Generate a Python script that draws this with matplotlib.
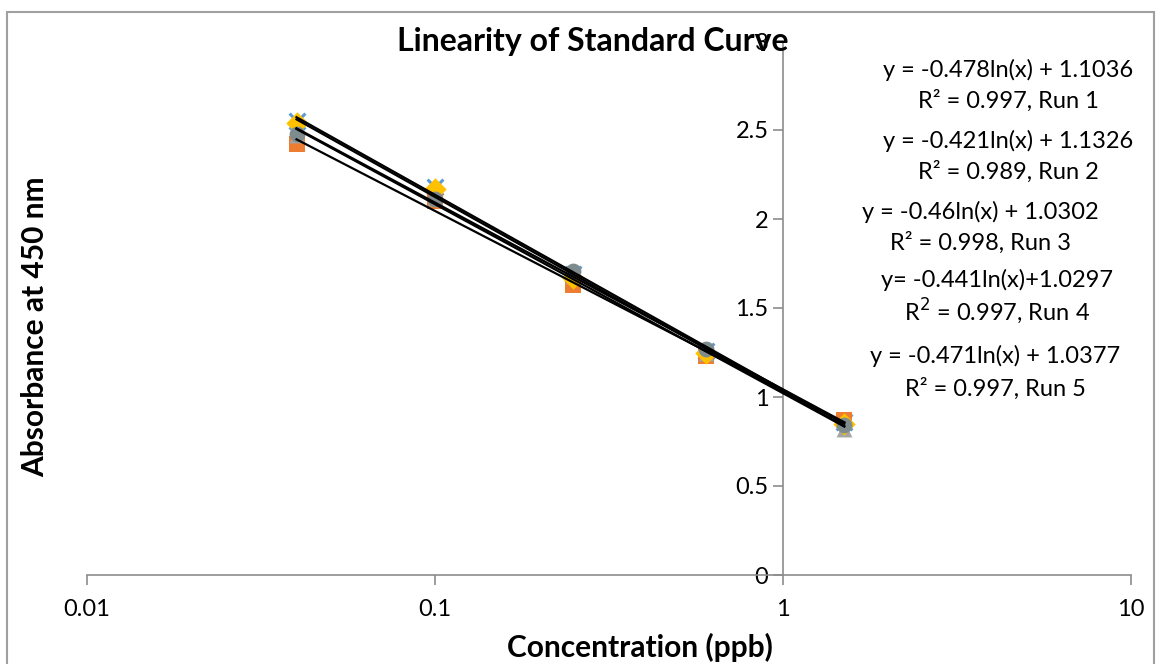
"""Linearity of standard curve, five runs on a log concentration axis."""

import matplotlib.pyplot as plt
import numpy as np
from matplotlib.patches import Rectangle

plt.rcParams["font.family"] = ["Lato", "DejaVu Sans"]

# concentrations (ppb) and absorbance readings per run
conc = [0.04, 0.1, 0.25, 0.6, 1.5]
run1 = [2.55, 2.18, 1.69, 1.26, 0.86]
run2 = [2.42, 2.10, 1.63, 1.23, 0.87]
run3 = [2.47, 2.12, 1.68, 1.25, 0.82]
run4 = [2.54, 2.17, 1.67, 1.25, 0.85]
run5 = [2.48, 2.11, 1.71, 1.27, 0.84]

runs = [run1, run2, run3, run4, run5]
markers = ["x", "s", "^", "D", "o"]
colors = ["#5B9BD5", "#ED7D31", "#A5A5A5", "#FFC000", "#7F8C8D"]

equations = [
    ("y = -0.478ln(x) + 1.1036", "R² = 0.997, Run 1"),
    ("y = -0.421ln(x) + 1.1326", "R² = 0.989, Run 2"),
    ("y = -0.46ln(x) + 1.0302", "R² = 0.998, Run 3"),
    ("y= -0.441ln(x)+1.0297", "R$^2$ = 0.997, Run 4"),
    ("y = -0.471ln(x) + 1.0377", "R² = 0.997, Run 5"),
]
eq_pos = [(1008, 70, 101), (1008, 141, 172), (980, 212, 243),
          (997, 280, 311), (995, 356, 389)]

W, H = 1162, 664
fig = plt.figure(figsize=(W / 100, H / 100), dpi=100)
ax = fig.add_axes([87 / W, 1 - 575 / H, (1131 - 87) / W, (575 - 41) / H])

# chart-area border, bottom edge runs off the image
fig.patches.append(Rectangle((7 / W, -0.02), 1147 / W, 1 - 12 / H + 0.02,
                             transform=fig.transFigure, fill=False,
                             edgecolor="#A0A0A0", linewidth=1.5))

for vals, m, c in zip(runs, markers, colors):
    lw = 2.2 if m == "x" else 0
    ax.scatter(conc, vals, marker=m, s=130, color=c, linewidths=lw, zorder=3)

xs = np.array([conc[0], conc[-1]])
for vals in runs:
    b, a = np.polyfit(np.log(conc), vals, 1)
    ax.plot(xs, b * np.log(xs) + a, color="black", linewidth=1.6, zorder=4)

ax.set_xscale("log")
ax.set_xlim(0.01, 10)
ax.set_ylim(0, 3)
ax.set_yticks([0, 0.5, 1, 1.5, 2, 2.5, 3])
ax.set_yticklabels(["0", "0.5", "1", "1.5", "2", "2.5", "3"])
ax.set_xticks([0.01, 0.1, 1, 10])
ax.set_xticklabels(["0.01", "0.1", "1", "10"])
ax.minorticks_off()

for side in ["top", "right"]:
    ax.spines[side].set_visible(False)
ax.spines["left"].set_position(("data", 1))
ax.spines["bottom"].set_position(("data", 0))
for side in ["left", "bottom"]:
    ax.spines[side].set_color("#8C8C8C")
    ax.spines[side].set_linewidth(1.2)
ax.tick_params(colors="#8C8C8C", labelcolor="black", labelsize=17, length=7, width=1.2)
ax.tick_params(axis="x", pad=10)

ax.set_xlabel("Concentration (ppb)", fontsize=21.5, fontweight="bold")
ax.xaxis.set_label_coords(0.53, -0.108)
fig.text(35 / W, 1 - 327 / H, "Absorbance at 450 nm", fontsize=21.5, fontweight="bold",
         rotation=90, ha="center", va="center")
fig.text(593 / W, 1 - 42 / H, "Linearity of Standard Curve", fontsize=23, fontweight="bold",
         ha="center", va="center")

for (eq, r2), (x, y1, y2) in zip(equations, eq_pos):
    fig.text(x / W, 1 - y1 / H, eq, fontsize=17, ha="center", va="center")
    fig.text(x / W, 1 - y2 / H, r2, fontsize=17, ha="center", va="center")

fig.savefig("out.png", dpi=100)
